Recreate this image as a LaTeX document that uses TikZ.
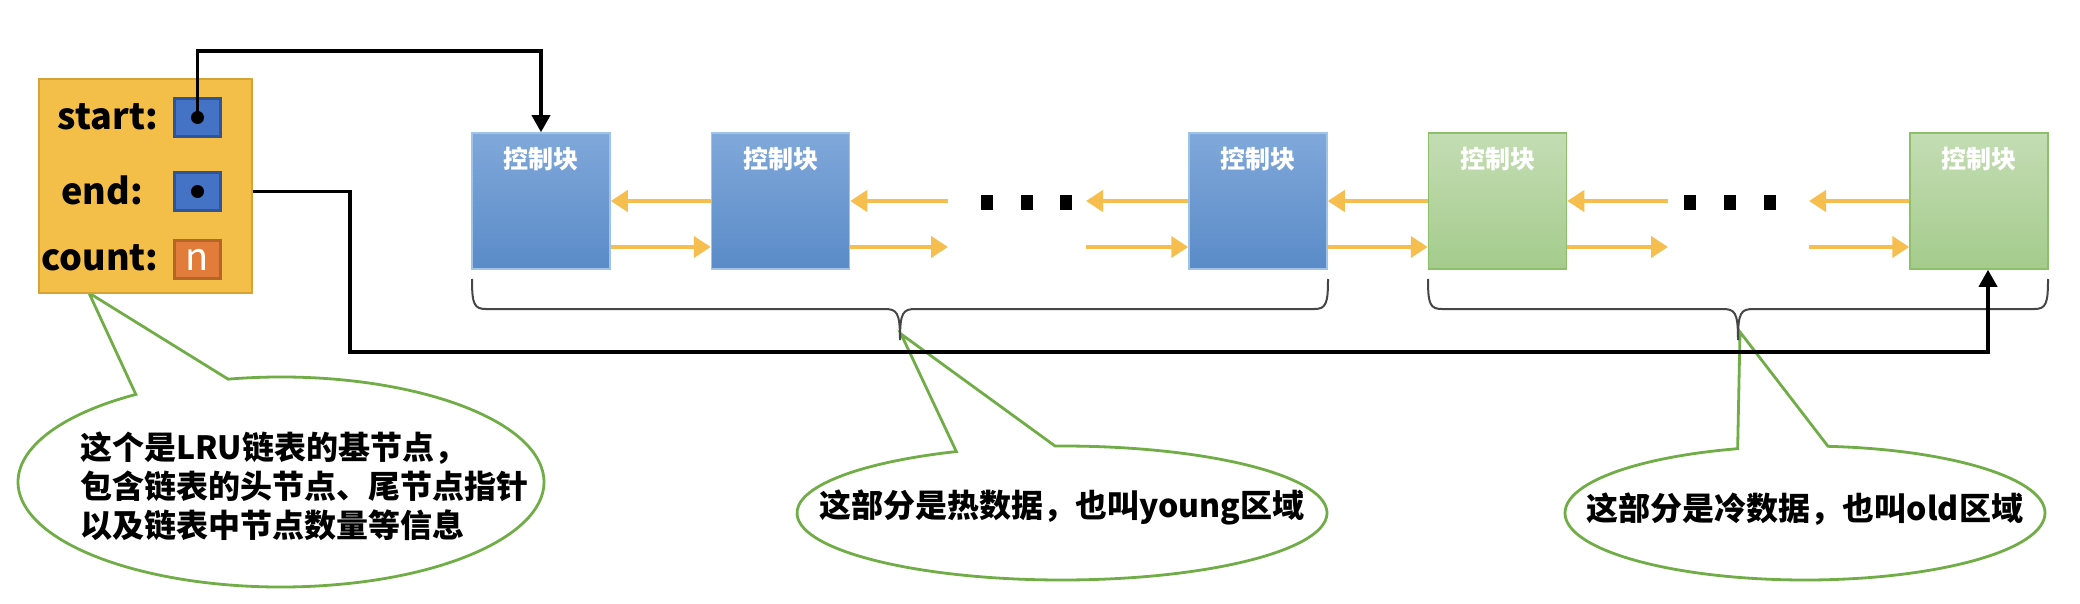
\documentclass[tikz,border=0pt]{standalone}
\usepackage{fontspec}
\setmainfont{Noto Sans CJK SC}
\usetikzlibrary{arrows.meta,calc}
\definecolor{boxF}{RGB}{243,191,72}
\definecolor{boxB}{RGB}{214,163,52}
\definecolor{sqF}{RGB}{68,114,196}
\definecolor{sqB}{RGB}{47,85,151}
\definecolor{cntF}{RGB}{226,124,58}
\definecolor{cntB}{RGB}{181,101,42}
\definecolor{blkT}{RGB}{128,168,218}
\definecolor{blkD}{RGB}{90,139,200}
\definecolor{blkB}{RGB}{160,195,232}
\definecolor{grnT}{RGB}{196,221,180}
\definecolor{grnD}{RGB}{164,203,140}
\definecolor{grnB}{RGB}{140,192,108}
\definecolor{yel}{RGB}{246,190,79}
\definecolor{cg}{RGB}{112,173,71}
\definecolor{brg}{RGB}{70,70,70}
\begin{document}
\begin{tikzpicture}[x=1pt,y=-1pt,
  blk/.style={rectangle, minimum width=138pt, minimum height=136pt, inner sep=0pt, draw=blkB, line width=1.5pt, top color=blkT, bottom color=blkD},
  gblk/.style={rectangle, minimum width=138pt, minimum height=136pt, inner sep=0pt, draw=grnB, line width=1.5pt, top color=grnT, bottom color=grnD},
  btxt/.style={text=white, font=\fontsize{25}{25}\selectfont\bfseries, inner sep=0pt},
  ya/.style={draw=yel, line width=4pt, -{Triangle[length=17pt,width=21pt]}},
  ptr/.style={draw=black, line width=3.5pt, -{Triangle[length=17pt,width=18pt]}},
  brc/.style={draw=brg, line width=2pt},
  callout/.style={draw=cg, line width=2.8pt, fill=white, line join=miter},
  ctext/.style={font=\fontsize{32}{39}\selectfont\bfseries, align=left, inner sep=0pt},
  lab/.style={font=\fontsize{36}{36}\selectfont\bfseries, inner sep=0pt},
  dotsq/.style={fill=black, minimum width=12pt, minimum height=15pt, inner sep=0pt},
  ptrsq/.style={rectangle, fill=sqF, draw=sqB, line width=2.5pt, minimum width=46pt, minimum height=38pt, inner sep=0pt}
]
\path[use as bounding box, fill=white] (0,0) rectangle (2080,604);

% callouts
\coordinate (cL) at (281,482);
\coordinate (tipL) at (89,293);
\draw[callout] ($(cL)+(123.5:263pt and 105pt)$) -- (tipL) -- ($(cL)+(101.6:263pt and 105pt)$)
  arc[start angle=101.6, end angle=-236.5, x radius=263pt, y radius=105pt] -- cycle;
\node[ctext] (txtL) at (304,486) {这个是LRU链表的基节点，\\包含链表的头节点、尾节点指针\\以及链表中节点数量等信息};

\coordinate (cM) at (1062,513);
\coordinate (tipM) at (901,334);
\draw[callout] ($(cM)+(113.5:265pt and 67pt)$) -- (tipM) -- ($(cM)+(91.5:265pt and 67pt)$)
  arc[start angle=91.5, end angle=-246.5, x radius=265pt, y radius=67pt] -- cycle;
\node[ctext] (txtM) at (1062,507) {这部分是热数据，也叫young区域};

\coordinate (cR) at (1805,513);
\coordinate (tipR) at (1740,332);
\draw[callout] ($(cR)+(106.3:240pt and 67pt)$) -- (tipR) -- ($(cR)+(84.5:240pt and 67pt)$)
  arc[start angle=84.5, end angle=-253.7, x radius=240pt, y radius=67pt] -- cycle;
\node[ctext] (txtR) at (1805,509) {这部分是冷数据，也叫old区域};

% base node box
\node[rectangle, fill=boxF, draw=boxB, line width=2.5pt, minimum width=213pt, minimum height=214pt, inner sep=0pt] (box) at (145.5,186) {};
\node[lab] (lstart) at (108,117) {start:};
\node[lab] (lend) at (102,190) {end:};
\node[lab] (lcount) at (100,258) {count:};
\node[ptrsq] (sq1) at (197.5,117.5) {};
\node[ptrsq] (sq2) at (197.5,191.5) {};
\node[rectangle, fill=cntF, draw=cntB, line width=2.5pt, minimum width=46pt, minimum height=38pt, inner sep=0pt, text=white, font=\fontsize{38}{38}\selectfont] (sq3) at (197.5,259.5) {n};

% blocks
\node[blk] (b1) at (541,201) {};
\node[blk] (b2) at (780.5,201) {};
\node[blk] (b3) at (1258,201) {};
\node[gblk] (b4) at (1497.5,201) {};
\node[gblk] (b5) at (1979,201) {};
\foreach \b in {1,...,5}{\node[btxt] (t\b) at ($(b\b.north)+(0,27)$) {控制块};}

% yellow arrows
\draw[ya] (b2.west) -- (b1.east);
\draw[ya] ($(b1.east)+(0,46)$) -- ($(b2.west)+(0,46)$);
\coordinate (g1) at (948,201);
\draw[ya] (g1) -- (b2.east);
\draw[ya] ($(b2.east)+(0,46)$) -- ($(g1)+(0,46)$);
\coordinate (g2) at (1086,201);
\draw[ya] (b3.west) -- (g2);
\draw[ya] ($(g2)+(0,46)$) -- ($(b3.west)+(0,46)$);
\draw[ya] (b4.west) -- (b3.east);
\draw[ya] ($(b3.east)+(0,46)$) -- ($(b4.west)+(0,46)$);
\coordinate (g3) at (1668,201);
\draw[ya] (g3) -- (b4.east);
\draw[ya] ($(b4.east)+(0,46)$) -- ($(g3)+(0,46)$);
\coordinate (g4) at (1809,201);
\draw[ya] (b5.west) -- (g4);
\draw[ya] ($(g4)+(0,46)$) -- ($(b5.west)+(0,46)$);

% ellipsis dots
\node[dotsq] (d1) at (987,203) {};
\node[dotsq] (d2) at (1027,203) {};
\node[dotsq] (d3) at (1066,203) {};
\node[dotsq] (d4) at (1690,203) {};
\node[dotsq] (d5) at (1730,203) {};
\node[dotsq] (d6) at (1770,203) {};

% braces
\draw[brc] (472,279) .. controls (472,304) and (474,309) .. (486,309) -- (884,309) .. controls (897,309) and (900,312) .. (900,340) .. controls (900,312) and (903,309) .. (916,309) -- (1314,309) .. controls (1326,309) and (1328,304) .. (1328,279);
\draw[brc] (1428,279) .. controls (1428,304) and (1430,309) .. (1442,309) -- (1722,309) .. controls (1735,309) and (1738,312) .. (1738,340) .. controls (1738,312) and (1741,309) .. (1754,309) -- (2034,309) .. controls (2046,309) and (2048,304) .. (2048,279);

% pointer connectors
\draw[ptr] (sq1.center) |- ($(b1.north)+(0,-81)$) -- (b1.north);
\coordinate (bendA) at (350,352);
\coordinate (b5in) at ($(b5.south)+(9,0)$);
\draw[ptr] (box.east |- sq2) -| (bendA) -| (b5in);
\node[circle, fill=black, minimum size=13pt, inner sep=0pt] (dot1) at (sq1) {};
\node[circle, fill=black, minimum size=13pt, inner sep=0pt] (dot2) at (sq2) {};
\end{tikzpicture}
\end{document}
